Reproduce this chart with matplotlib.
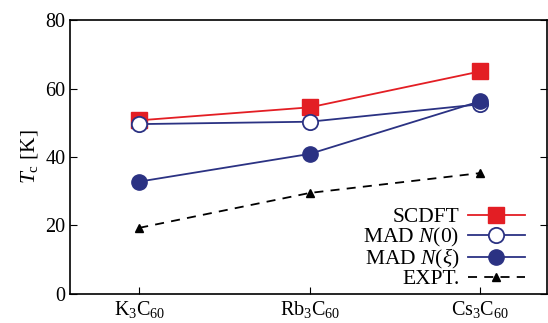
import numpy as np
import matplotlib.pyplot as plt

plt.rcParams['font.family'] = ['Liberation Serif', 'DejaVu Serif']
plt.rcParams['mathtext.fontset'] = 'custom'
plt.rcParams['mathtext.rm'] = 'Liberation Serif'
plt.rcParams['mathtext.it'] = 'Liberation Serif:italic'

fs = 14.5
labels = ['K$_3$C$_{60}$', 'Rb$_3$C$_{60}$', 'Cs$_3$C$_{60}$']
scdft = [50.7, 54.5, 65.0]
mad_n0 = [49.6, 50.3, 55.4]
mad_nxi = [32.8, 40.9, 56.3]
expt = [19.3, 29.5, 35.3]

red = '#e31e24'
navy = '#2b3283'

x = np.arange(len(labels))
fig = plt.figure(figsize=(5.48, 3.23), dpi=100)
ax = fig.add_axes([0.128, 0.09, 0.87, 0.848])

ax.plot(x, scdft, color=red, lw=1.3, marker='s', ms=12, label='SCDFT')
ax.plot(x, mad_n0, color=navy, lw=1.3, marker='o', ms=11, mfc='white',
        mew=1.3, label='MAD $N$(0)')
ax.plot(x, mad_nxi, color=navy, lw=1.3, marker='o', ms=11, label=r'MAD $N$($\xi$)')
ax.plot(x, expt, color='black', lw=1.3, ls=(0, (5, 4)), marker='^', ms=6,
        label='EXPT.')

ax.set_xlim(-0.405, 2.39)
ax.set_ylim(0, 80)
ax.set_xticks(x)
ax.set_xticklabels(labels)
ax.set_yticks([0, 20, 40, 60, 80])
ax.set_ylabel(r'$T_\mathrm{c}$ [K]', fontsize=15.5)
ax.tick_params(direction='in', labelsize=fs, right=True, top=False, length=5)
for s in ax.spines.values():
    s.set_linewidth(1.2)

ax.legend(loc='lower right', bbox_to_anchor=(0.972, -0.015), frameon=False,
          fontsize=15.5, markerfirst=False, handlelength=2.65, labelspacing=-0.08,
          borderaxespad=0.0, handletextpad=0.4)

fig.savefig('out.png', dpi=100)
